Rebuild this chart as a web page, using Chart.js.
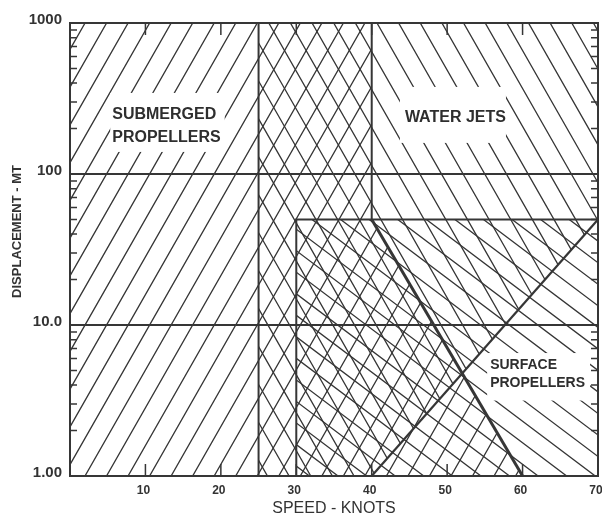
<!DOCTYPE html>
<html>
<head>
<meta charset="utf-8">
<script src="https://cdn.jsdelivr.net/npm/chart.js@4.4.1/dist/chart.umd.min.js"></script>
<style>
  html, body { margin: 0; padding: 0; background: #fff; }
  #wrap { width: 602px; height: 516px; overflow: hidden; }
</style>
</head>
<body>
<div id="wrap"><canvas id="chart" width="602" height="516"></canvas></div>
<script>
// tick values and labels
const xTicks = [10, 20, 30, 40, 50, 60, 70];
const yTicks = [1, 10, 100, 1000];
const yTickLabels = ['1.00', '10.0', '100', '1000'];
const yMinorTicks = [2, 3, 4, 5, 6, 7, 8, 9, 20, 30, 40, 50, 60, 70, 80, 90, 200, 300, 400, 500, 600, 700, 800, 900];

// region outlines: speed (knots) and displacement (MT)
const submergedX = [0, 0, 40, 40, 60];
const submergedY = [1, 1000, 1000, 50, 1];
const waterJetsX = [25, 25, 70, 70, 40];
const waterJetsY = [1, 1000, 1000, 50, 1];
const surfaceX = [30, 30, 70, 70];
const surfaceY = [1, 50, 50, 1];

const regionNames = [['SUBMERGED', 'PROPELLERS'], ['WATER JETS'], ['SURFACE', 'PROPELLERS']];

const ink = '#363636';
const font = "'Liberation Sans', Arial, Helvetica, sans-serif";

// hatch styles (angle in degrees, gap = perpendicular spacing, anchor in px)
const hatchStyles = [
  { xs: submergedX, ys: submergedY, angle: 60.3, gap: 18.7, ax: 106, ay: 175 },
  { xs: waterJetsX, ys: waterJetsY, angle: 119.7, gap: 18.8, ax: 508, ay: 25 },
  { xs: surfaceX, ys: surfaceY, angle: 143, gap: 17.2, ax: 520, ay: 247 }
];

// label placement (data coords) and white knock-out margins [left, top, right, bottom]
const labelStyles = [
  { x: 5.6, y: 248, size: 16, lead: 23, pad: [2, 21.5, 4, 14.5] },
  { x: 44.4, y: 237, size: 16, lead: 23, pad: [5, 30.5, 0, 25.5] },
  { x: 55.7, y: 5.43, size: 14, lead: 18.5, pad: [3, 12, 5, 17] }
];

function pts(xs, ys, from, to) {
  return xs.slice(from, to).map((v, i) => ({ x: v, y: ys[from + i] }));
}

function toPx(chart, xs, ys) {
  const { x, y } = chart.scales;
  return xs.map((v, i) => [x.getPixelForValue(v), y.getPixelForValue(ys[i])]);
}

function drawHatch(ctx, area, poly, h) {
  ctx.save();
  ctx.beginPath();
  poly.forEach(([px, py], i) => (i ? ctx.lineTo(px, py) : ctx.moveTo(px, py)));
  ctx.closePath();
  ctx.clip();
  const a = h.angle * Math.PI / 180;
  const dx = Math.cos(a), dy = -Math.sin(a);
  const nx = -dy, ny = dx;
  const corners = [[area.left, area.top], [area.right, area.top], [area.left, area.bottom], [area.right, area.bottom]];
  const proj = corners.map(([cx, cy]) => (cx - h.ax) * nx + (cy - h.ay) * ny);
  const k0 = Math.floor(Math.min(...proj) / h.gap) - 1;
  const k1 = Math.ceil(Math.max(...proj) / h.gap) + 1;
  ctx.strokeStyle = ink;
  ctx.lineWidth = 1.3;
  ctx.beginPath();
  for (let k = k0; k <= k1; k++) {
    const ox = h.ax + nx * k * h.gap, oy = h.ay + ny * k * h.gap;
    ctx.moveTo(ox - dx * 1500, oy - dy * 1500);
    ctx.lineTo(ox + dx * 1500, oy + dy * 1500);
  }
  ctx.stroke();
  ctx.restore();
}

const hatchPlugin = {
  id: 'hatch',
  beforeDatasetsDraw(chart) {
    const { ctx, chartArea } = chart;
    hatchStyles.forEach(h => drawHatch(ctx, chartArea, toPx(chart, h.xs, h.ys), h));

    // region labels on white knock-outs
    ctx.save();
    regionNames.forEach((lines, i) => {
      const s = labelStyles[i];
      const px = chart.scales.x.getPixelForValue(s.x);
      const py = chart.scales.y.getPixelForValue(s.y);
      ctx.font = `bold ${s.size}px ${font}`;
      const w = Math.max(...lines.map(t => ctx.measureText(t).width));
      ctx.fillStyle = '#fff';
      ctx.fillRect(px - s.pad[0], py - s.pad[1], w + s.pad[0] + s.pad[2],
        (lines.length - 1) * s.lead + s.pad[1] + s.pad[3]);
      ctx.fillStyle = '#2e2e2e';
      ctx.textAlign = 'left';
      ctx.textBaseline = 'middle';
      lines.forEach((t, j) => ctx.fillText(t, px, py + j * s.lead));
    });
    ctx.restore();
  },
  afterDatasetsDraw(chart) {
    const { ctx, chartArea: a, scales: { x, y } } = chart;
    ctx.save();
    ctx.strokeStyle = ink;
    ctx.lineWidth = 2;
    ctx.strokeRect(a.left, a.top, a.right - a.left, a.bottom - a.top);
    ctx.lineWidth = 1.5;
    ctx.beginPath();
    yMinorTicks.forEach(v => {
      const py = y.getPixelForValue(v);
      ctx.moveTo(a.left, py); ctx.lineTo(a.left + 7, py);
      ctx.moveTo(a.right, py); ctx.lineTo(a.right - 7, py);
    });
    xTicks.forEach(v => {
      const px = x.getPixelForValue(v);
      ctx.moveTo(px, a.bottom); ctx.lineTo(px, a.bottom - 12);
      ctx.moveTo(px, a.top); ctx.lineTo(px, a.top + 12);
    });
    ctx.stroke();
    ctx.restore();
  }
};

new Chart(document.getElementById('chart'), {
  type: 'scatter',
  data: {
    datasets: [
      { data: pts(submergedX, submergedY, 2, 4), borderWidth: 2 },
      { data: pts(submergedX, submergedY, 3, 5), borderWidth: 3 },
      { data: pts(waterJetsX, waterJetsY, 0, 2), borderWidth: 2 },
      { data: pts(waterJetsX, waterJetsY, 3, 5), borderWidth: 2.2 },
      { data: pts(surfaceX, surfaceY, 0, 3), borderWidth: 2 }
    ].map(d => Object.assign(d, {
      showLine: true, pointRadius: 0, borderColor: ink, fill: false, clip: false
    }))
  },
  options: {
    responsive: false,
    animation: false,
    layout: { padding: { left: 4, right: 4, top: 23, bottom: 0 } },
    plugins: { legend: { display: false }, tooltip: { enabled: false } },
    scales: {
      x: {
        type: 'linear', min: 0, max: 70,
        afterBuildTicks: s => { s.ticks = xTicks.map(v => ({ value: v })); },
        afterFit: s => { s.height = 40; s.paddingLeft = 0; s.paddingRight = 0; },
        grid: { display: false, drawTicks: false },
        border: { display: true, color: ink, width: 2 },
        ticks: {
          autoSkip: false, maxRotation: 0, padding: 7, labelOffset: -2,
          color: '#333', font: { family: font, size: 12, weight: 'bold' }
        },
        title: {
          display: true, text: 'SPEED - KNOTS', color: '#333',
          font: { family: font, size: 16 }, padding: { top: 0, bottom: -2.6 }
        }
      },
      y: {
        type: 'logarithmic', min: 1, max: 1000,
        afterBuildTicks: s => { s.ticks = yTicks.map(v => ({ value: v })); },
        afterFit: s => { s.width = 66; },
        grid: {
          drawTicks: false, lineWidth: 2,
          color: c => (c.tick && (c.tick.value === 10 || c.tick.value === 100)) ? ink : 'rgba(0,0,0,0)'
        },
        border: { display: true, color: ink, width: 2 },
        ticks: {
          autoSkip: false, padding: 8, labelOffset: -3,
          callback: (v, i) => yTickLabels[i],
          color: '#333', font: { family: font, size: 15, weight: 'bold' }
        },
        title: {
          display: true, text: '          DISPLACEMENT - MT', color: '#333',
          font: { family: font, size: 13, weight: 'bold' }, padding: { top: 5.7, bottom: 0 }
        }
      }
    }
  },
  plugins: [hatchPlugin]
});
</script>
</body>
</html>
